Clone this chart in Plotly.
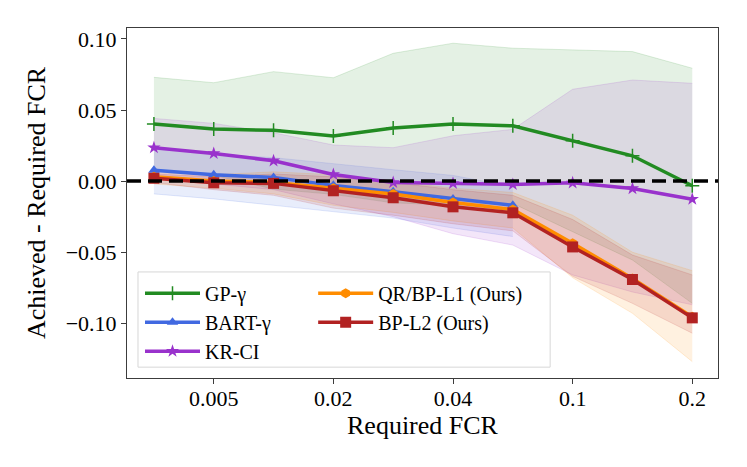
import plotly.graph_objects as go

# required FCR levels (x categories) and the ones shown as ticks
fcr_levels = ["0.001", "0.005", "0.01", "0.02", "0.03", "0.04", "0.05", "0.1", "0.15", "0.2"]
fcr_ticks = ["0.005", "0.02", "0.04", "0.1", "0.2"]

# achieved - required FCR, mean and band (lower / upper) per method
gp_mean = [0.0401, 0.0366, 0.0357, 0.0317, 0.0373, 0.0401, 0.0389, 0.0284, 0.0178, -0.0033]
gp_upper = [0.0730, 0.0692, 0.0770, 0.0727, 0.0899, 0.0970, 0.0935, 0.0923, 0.0911, 0.0794]
gp_lower = [0.0072, 0.0040, -0.0056, -0.0093, -0.0153, -0.0168, -0.0157, -0.0355, -0.0555, -0.0860]

bart_levels = fcr_levels[:7]
bart_mean = [0.0077, 0.0045, 0.0025, -0.0030, -0.0075, -0.0125, -0.0170]
bart_upper = [0.0230, 0.0190, 0.0165, 0.0120, 0.0080, 0.0040, -0.0040]
bart_lower = [-0.0090, -0.0125, -0.0170, -0.0215, -0.0260, -0.0330, -0.0390]

kr_mean = [0.0235, 0.0195, 0.0143, 0.0047, -0.0009, -0.0016, -0.0023, -0.0012, -0.0052, -0.0127]
kr_upper = [0.0441, 0.0406, 0.0340, 0.0254, 0.0235, 0.0319, 0.0364, 0.0646, 0.0711, 0.0688]
kr_lower = [0.0030, -0.0020, -0.0060, -0.0160, -0.0250, -0.0370, -0.0450, -0.0660, -0.0780, -0.0870]

qr_mean = [0.0030, 0.0000, -0.0010, -0.0050, -0.0090, -0.0150, -0.0200, -0.0437, -0.0685, -0.0955]
qr_upper = [0.0060, 0.0045, 0.0065, 0.0045, 0.0000, -0.0050, -0.0080, -0.0240, -0.0500, -0.0630]
qr_lower = [-0.0020, -0.0050, -0.0090, -0.0170, -0.0220, -0.0280, -0.0330, -0.0680, -0.0930, -0.1270]

l2_mean = [0.0020, -0.0012, -0.0016, -0.0068, -0.0117, -0.0181, -0.0223, -0.0463, -0.0692, -0.0962]
l2_upper = [0.0050, 0.0030, 0.0050, 0.0030, -0.0010, -0.0060, -0.0100, -0.0270, -0.0520, -0.0660]
l2_lower = [-0.0010, -0.0060, -0.0100, -0.0190, -0.0240, -0.0300, -0.0350, -0.0670, -0.0860, -0.1070]

methods = [
    # name, x, mean, lower, upper, rgb, marker, legend column
    ("GP-γ", fcr_levels, gp_mean, gp_lower, gp_upper, (34, 139, 34), "cross-thin", "legend"),
    ("BART-γ", bart_levels, bart_mean, bart_lower, bart_upper, (65, 105, 225), "triangle-up", "legend"),
    ("KR-CI", fcr_levels, kr_mean, kr_lower, kr_upper, (153, 50, 204), "star", "legend"),
    ("QR/BP-L1 (Ours)", fcr_levels, qr_mean, qr_lower, qr_upper, (255, 140, 0), "hexagon", "legend2"),
    ("BP-L2 (Ours)", fcr_levels, l2_mean, l2_lower, l2_upper, (178, 34, 34), "square", "legend2"),
]

fig = go.Figure()

# bands first so the lines sit on top
for name, xs, mean, lo, hi, rgb, sym, leg in methods:
    r, g, b = rgb
    fig.add_trace(go.Scatter(x=xs, y=lo, mode="lines", showlegend=False, hoverinfo="skip",
                             line=dict(color=f"rgba({r},{g},{b},0.15)", width=1)))
    fig.add_trace(go.Scatter(x=xs, y=hi, mode="lines", showlegend=False, hoverinfo="skip",
                             fill="tonexty", fillcolor=f"rgba({r},{g},{b},0.12)",
                             line=dict(color=f"rgba({r},{g},{b},0.15)", width=1)))

for name, xs, mean, lo, hi, rgb, sym, leg in methods:
    r, g, b = rgb
    col = f"rgb({r},{g},{b})"
    fig.add_trace(go.Scatter(
        x=xs, y=mean, mode="lines+markers", name=name, legend=leg,
        line=dict(color=col, width=3.5),
        marker=dict(symbol=sym, size=11 if sym == "square" else 10, color=col,
                    line=dict(color=col, width=1.5 if sym == "cross-thin" else 0)),
    ))

# zero reference line across the whole axis
fig.add_shape(type="line", xref="paper", yref="y", x0=0, x1=1, y0=0, y1=0,
              line=dict(color="black", width=3.5, dash="14px,7px"))

# legend frame (two legends inside one box)
fig.add_shape(type="rect", xref="paper", yref="paper", x0=0.0186, x1=0.716, y0=0.031, y1=0.303,
              line=dict(color="rgb(215,215,215)", width=1), fillcolor="rgba(255,255,255,0.85)",
              layer="above")

font_family = "Liberation Serif"
legend_style = dict(yanchor="top", xanchor="left", bgcolor="rgba(0,0,0,0)", borderwidth=0,
                    font=dict(family=font_family, size=20), itemwidth=55, tracegroupgap=0,
                    traceorder="normal")
# page body adds 8px, so the figure is 8px smaller than the window
fig.update_layout(
    width=739, height=459,
    margin=dict(l=119, r=29, t=20, b=89),
    plot_bgcolor="white", paper_bgcolor="white",
    font=dict(family=font_family, size=22, color="black"),
    legend=dict(x=0.022, y=0.298, **legend_style),
    legend2=dict(x=0.315, y=0.298, **legend_style),
    xaxis=dict(
        type="category", categoryorder="array", categoryarray=fcr_levels,
        range=[-0.45, 9.43], tickvals=fcr_ticks, ticktext=fcr_ticks, automargin=False,
        showgrid=False, zeroline=False, showline=True, linecolor="rgb(60,60,60)", linewidth=1,
        mirror=True, ticks="outside", ticklen=5, tickcolor="rgb(60,60,60)",
        ticklabelstandoff=-4,
        title=dict(text="Required FCR", standoff=4),
    ),
    yaxis=dict(
        range=[-0.1385, 0.1077], tickvals=[-0.10, -0.05, 0.0, 0.05, 0.10], tickformat=".2f",
        automargin=False,
        showgrid=False, zeroline=False, showline=True, linecolor="rgb(60,60,60)", linewidth=1,
        mirror=True, ticks="outside", ticklen=5, tickcolor="rgb(60,60,60)",
        title=dict(text="Achieved - Required FCR", standoff=12),
    ),
)

fig.write_html("out.html")
